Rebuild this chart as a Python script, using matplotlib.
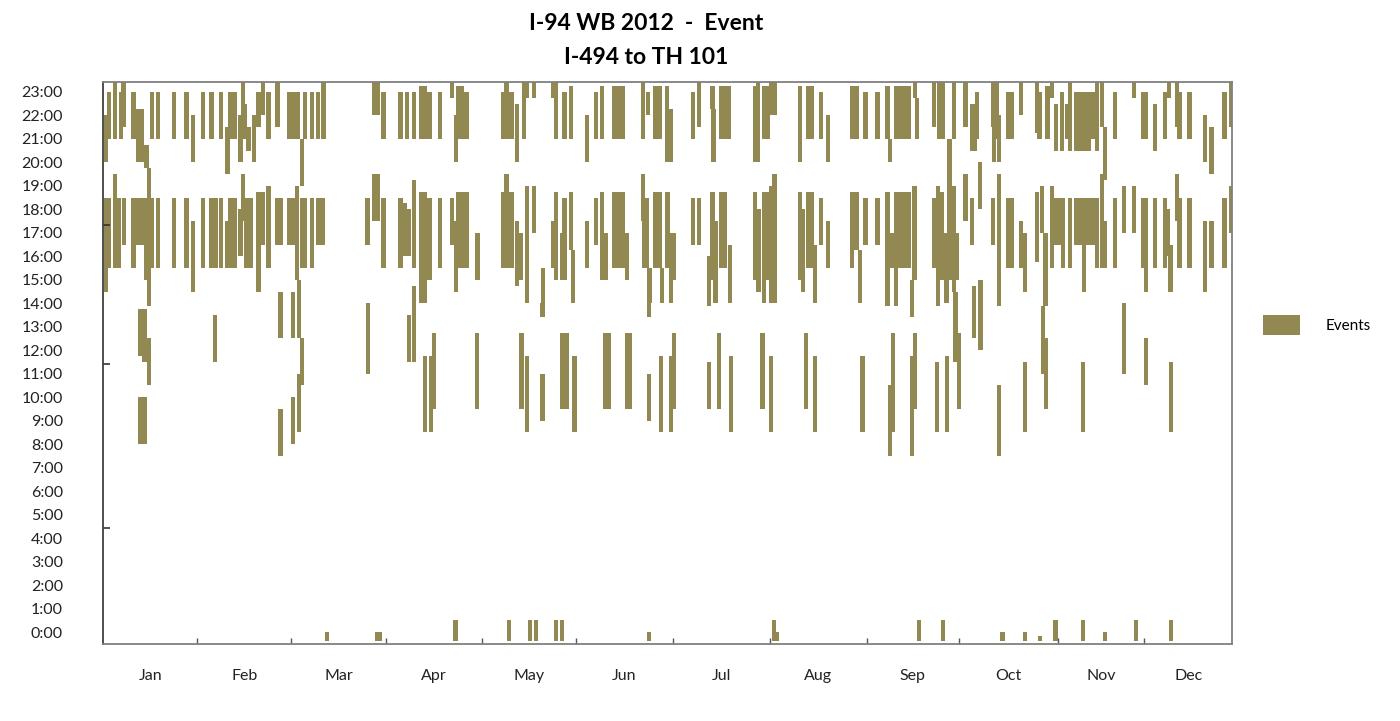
import numpy as np
import matplotlib
matplotlib.use("Agg")
import matplotlib.pyplot as plt

# x = position of the day column (1 unit wide), hours from / to
evening = [
    [0.2, 20.0, 22.0], [0.8, 21.0, 23.0], [2.2, 21.0, 23.5], [3.6, 21.0, 23.0], [4.2, 21.5, 23.5],
    [6.5, 21.0, 23.0], [7.5, 20.0, 22.25], [8.5, 20.0, 22.25], [9.5, 19.75, 20.75], [10.8, 21.0, 23.0],
    [12.2, 21.0, 23.0], [15.9, 21.0, 23.0], [18.7, 21.0, 23.0], [20.3, 20.0, 22.0], [22.6, 21.0, 23.0],
    [24.5, 21.0, 23.0], [26.7, 21.0, 23.0], [28.2, 19.5, 21.5], [28.9, 21.0, 23.0], [29.8, 21.0, 23.0],
    [31.2, 20.0, 22.0], [31.8, 21.5, 23.5], [32.2, 21.0, 22.5], [33.1, 20.5, 21.5], [34.3, 20.0, 22.0],
    [35.4, 21.5, 23.0], [36.4, 22.0, 23.5], [37.7, 21.0, 23.0], [39.8, 21.5, 23.5],
    [42.5, 21.0, 23.0], [43.5, 21.0, 23.0], [44.5, 21.0, 23.0], [45.5, 19.0, 21.0], [46.2, 21.0, 23.0],
    [47.8, 21.0, 23.0], [49.2, 21.0, 23.0], [50.4, 21.0, 23.5], [62.2, 22.0, 23.5], [62.9, 22.0, 23.5],
    [64.3, 21.0, 23.0], [68.2, 21.0, 23.0], [69.7, 21.0, 23.0], [71.4, 21.0, 23.0], [72.9, 21.0, 23.25],
    [73.9, 21.0, 23.25], [74.9, 21.0, 23.0], [77.3, 21.0, 23.0], [80.1, 22.75, 23.5], [81.1, 20.0, 22.0],
    [81.5, 21.0, 23.25], [82.5, 21.0, 23.25], [83.5, 21.0, 23.0],
    [92.0, 21.0, 23.0], [92.7, 23.0, 23.5], [93.0, 21.0, 23.0], [94.0, 21.0, 23.0], [95.2, 20.0, 22.5],
    [96.7, 21.0, 23.5], [97.5, 22.75, 23.5], [99.0, 22.75, 23.5], [103.5, 22.75, 23.5], [104.1, 21.0, 23.5],
    [106.1, 21.0, 23.0], [107.6, 21.0, 23.25], [111.3, 20.0, 22.0], [113.4, 21.0, 23.0], [114.8, 21.0, 23.25],
    [117.6, 21.0, 23.25], [118.6, 21.0, 23.25], [119.6, 21.0, 23.25], [124.3, 21.0, 23.5], [125.4, 22.0, 23.0],
    [127.1, 21.0, 23.25], [128.1, 21.0, 23.25], [129.8, 20.0, 23.25], [130.6, 20.0, 22.25],
    [135.8, 21.0, 23.0], [137.2, 21.5, 23.5], [140.3, 22.25, 23.25], [140.6, 20.0, 22.25], [142.3, 21.0, 23.25],
    [143.3, 21.0, 23.25], [144.0, 21.0, 23.25], [150.2, 20.0, 23.25], [150.8, 20.0, 23.5], [152.2, 21.0, 23.25],
    [153.1, 21.0, 23.25], [153.9, 22.0, 23.5], [154.7, 22.0, 23.5], [160.5, 20.0, 23.25], [162.5, 21.0, 23.25],
    [163.3, 21.0, 23.25], [165.4, 21.0, 23.0], [167.0, 20.0, 22.0], [172.6, 21.0, 23.25], [173.6, 21.0, 23.25],
    [175.7, 21.0, 23.0], [178.5, 21.0, 23.0], [180.8, 21.0, 23.25], [181.3, 20.0, 21.0], [182.8, 21.0, 23.25],
    [183.8, 21.0, 23.25], [184.8, 21.0, 23.25], [185.8, 21.0, 23.25], [187.1, 22.75, 23.5], [187.6, 21.0, 22.75],
    [191.6, 21.5, 23.5], [192.8, 21.0, 23.5], [193.6, 21.0, 23.5], [195.1, 17.0, 21.0], [196.1, 21.0, 23.5],
    [198.8, 21.5, 23.5], [200.3, 20.5, 22.5], [201.0, 20.5, 22.5], [201.5, 21.0, 23.0], [205.2, 21.5, 23.5],
    [205.4, 20.0, 22.0], [206.1, 21.0, 23.5], [206.5, 20.0, 22.0], [208.8, 21.0, 23.0], [209.6, 21.0, 23.0],
    [211.6, 22.0, 23.5], [215.3, 21.25, 23.5], [215.9, 21.0, 23.0], [217.8, 21.0, 23.25],
    [218.8, 22.75, 23.5], [219.8, 20.5, 22.5], [221.1, 20.5, 23.0], [222.3, 21.0, 22.5], [223.0, 20.5, 23.5],
    [224.4, 20.5, 23.0], [225.4, 20.5, 23.0], [226.4, 20.5, 23.0], [227.4, 20.5, 23.0], [228.2, 21.0, 23.0],
    [229.2, 20.5, 23.5], [230.4, 21.5, 23.5], [231.1, 19.25, 21.5], [233.4, 21.0, 23.0], [237.8, 22.75, 23.5],
    [239.8, 21.0, 23.0], [240.5, 21.0, 23.0], [242.7, 20.5, 22.5], [245.0, 21.0, 23.0], [245.8, 22.75, 23.5],
    [247.7, 21.5, 23.5], [248.3, 21.0, 23.0], [250.6, 21.0, 23.0], [254.2, 20.0, 22.0], [255.7, 19.5, 21.5],
    [258.7, 21.0, 23.0], [260.2, 21.5, 23.5],
]

afternoon = [
    [0.2, 14.5, 18.5], [0.8, 15.5, 18.5], [2.2, 15.5, 19.5], [3.2, 15.5, 18.5], [4.3, 16.5, 18.5],
    [6.5, 15.5, 18.5], [7.5, 16.5, 18.5], [8.5, 16.5, 18.5], [9.5, 15.0, 18.5], [10.0, 13.9, 19.75],
    [10.8, 15.5, 18.5], [12.2, 15.5, 18.5], [15.9, 15.5, 18.5], [18.7, 15.5, 18.5], [20.3, 14.5, 17.5],
    [22.6, 15.5, 18.5], [24.5, 15.5, 18.5], [25.5, 15.5, 18.5], [26.7, 15.5, 18.5], [28.2, 15.5, 17.5],
    [28.9, 15.5, 18.5], [29.8, 15.5, 18.5], [31.2, 16.0, 18.0], [31.8, 17.5, 19.5], [32.5, 15.5, 18.5],
    [33.5, 15.5, 18.5], [35.4, 14.5, 18.75], [36.4, 16.5, 18.75], [37.7, 15.5, 19.0], [39.8, 16.5, 18.5],
    [40.5, 16.5, 18.5],
    [42.5, 16.5, 18.5], [43.5, 16.5, 18.5], [44.3, 15.0, 19.0], [45.5, 15.5, 18.5], [46.2, 15.5, 18.5],
    [47.8, 15.5, 18.5], [49.2, 16.5, 18.5], [50.2, 16.5, 18.5], [60.6, 16.5, 18.5], [62.2, 17.5, 19.5],
    [62.9, 17.5, 19.5], [64.3, 15.5, 18.5], [68.2, 15.5, 18.5], [69.2, 16.0, 18.25], [70.1, 16.0, 18.0],
    [71.4, 15.5, 19.25], [72.9, 14.0, 18.75], [73.9, 14.0, 18.75], [74.9, 15.0, 18.5], [77.3, 15.5, 18.5],
    [80.1, 16.5, 18.5], [81.1, 14.5, 17.5], [81.5, 15.5, 18.75], [82.5, 15.5, 18.75], [83.5, 15.5, 18.75],
    [86.0, 15.0, 17.0],
    [92.0, 15.5, 18.75], [92.7, 17.5, 19.5], [93.0, 15.5, 18.75], [94.0, 15.5, 18.75], [95.2, 14.75, 17.5],
    [96.0, 15.0, 17.0], [97.5, 14.0, 19.0], [99.0, 17.0, 19.0], [101.1, 13.5, 15.5], [103.5, 15.5, 17.5],
    [104.1, 15.0, 18.75], [105.6, 15.0, 17.0], [106.1, 15.0, 18.5], [107.6, 16.25, 18.75], [108.1, 14.0, 16.25],
    [111.3, 15.5, 17.5], [113.4, 16.5, 18.5], [114.8, 15.0, 18.75], [115.6, 15.0, 17.0], [117.6, 15.5, 18.75],
    [118.6, 15.5, 18.75], [119.6, 15.5, 18.75], [120.5, 15.0, 17.0], [124.3, 17.5, 19.5], [124.5, 15.5, 18.5],
    [125.2, 15.5, 18.5], [125.8, 14.0, 15.5], [127.1, 15.5, 18.75], [128.1, 15.5, 18.75], [128.6, 14.0, 15.5],
    [129.9, 15.5, 18.75],
    [130.7, 14.0, 17.0], [131.5, 15.0, 17.0], [135.8, 16.5, 18.5], [137.2, 16.5, 18.5], [139.5, 13.9, 16.0],
    [140.3, 15.0, 18.75], [141.0, 14.0, 17.5], [142.3, 15.5, 18.75], [143.3, 15.5, 18.75], [144.4, 14.0, 16.5],
    [150.2, 15.0, 18.75], [151.0, 14.5, 18.0], [152.2, 14.0, 18.75], [153.1, 15.0, 18.75], [153.9, 14.0, 19.0],
    [154.7, 14.0, 19.5], [160.5, 15.0, 18.75], [161.3, 14.5, 18.0], [162.5, 15.5, 18.75], [163.3, 15.5, 18.75],
    [164.1, 14.0, 16.5], [165.4, 16.5, 18.5], [167.0, 15.5, 17.5], [172.6, 15.5, 18.75], [173.6, 16.25, 18.75],
    [174.5, 14.0, 16.25], [175.7, 16.5, 18.5], [178.5, 16.5, 18.5], [180.8, 13.9, 18.75], [181.8, 15.5, 17.0],
    [182.7, 13.9, 18.75], [183.8, 15.5, 18.75], [184.8, 15.5, 18.75], [185.8, 15.5, 18.75], [186.4, 13.4, 15.0],
    [187.0, 15.0, 19.0], [191.6, 15.5, 18.5], [192.4, 13.9, 19.0], [193.3, 15.0, 18.75], [194.4, 14.0, 17.0],
    [195.1, 15.0, 19.5], [196.1, 14.5, 19.0], [196.8, 15.0, 17.0], [198.8, 17.5, 19.5], [200.3, 16.5, 18.5],
    [202.2, 18.0, 20.0], [205.2, 16.5, 18.5], [206.5, 13.9, 19.5], [208.8, 15.5, 18.5], [209.6, 15.5, 18.5],
    [211.6, 15.5, 17.5], [212.6, 14.5, 17.0], [215.3, 15.75, 18.75], [216.5, 17.0, 19.0], [217.3, 13.9, 17.0],
    [218.8, 15.5, 19.0], [219.5, 16.5, 18.5], [220.5, 16.5, 18.5], [221.3, 15.5, 18.5], [223.0, 15.5, 18.5],
    [224.4, 16.5, 18.5], [225.4, 16.5, 18.5], [226.2, 14.5, 18.5], [227.2, 16.5, 18.5], [228.2, 16.5, 18.5],
    [229.2, 15.5, 18.5], [230.4, 15.5, 19.5], [231.1, 15.5, 17.5], [233.4, 15.5, 18.5], [235.5, 17.0, 19.0],
    [237.8, 17.0, 19.0], [239.8, 15.5, 18.5], [240.5, 14.5, 18.5], [242.7, 15.5, 18.5], [245.0, 15.5, 18.5],
    [245.5, 16.0, 18.0], [246.2, 14.5, 16.5], [247.7, 17.5, 19.5], [248.3, 15.5, 18.5], [250.6, 15.5, 18.5],
    [254.2, 14.5, 17.5], [255.7, 15.5, 17.5], [258.7, 15.5, 18.5], [260.2, 17.0, 19.0],
]

daytime = [
    [8.0, 11.75, 13.75], [9.0, 11.5, 13.75], [10.0, 10.5, 12.5], [8.0, 8.0, 10.0], [9.0, 8.0, 10.0],
    [25.4, 11.5, 13.5], [40.5, 12.5, 14.5], [40.5, 7.5, 9.5],
    [43.4, 12.5, 14.5], [43.4, 8.0, 10.0], [44.7, 12.5, 15.0], [44.7, 8.5, 11.0], [45.5, 10.5, 12.5],
    [60.7, 11.0, 14.0], [70.1, 11.5, 13.5], [71.4, 11.5, 14.75], [73.8, 8.5, 11.75], [75.3, 8.5, 11.75],
    [75.9, 9.5, 12.75], [85.9, 9.5, 12.75],
    [96.2, 9.5, 12.75], [97.5, 8.5, 11.75], [101.0, 9.0, 11.0], [101.0, 13.4, 14.0], [105.6, 9.5, 12.75],
    [106.6, 9.5, 12.75], [108.4, 8.5, 11.75], [115.6, 9.5, 12.75], [116.3, 9.5, 12.75], [120.6, 9.5, 12.75],
    [121.3, 9.5, 12.75], [125.6, 9.0, 11.0], [125.6, 13.4, 14.4], [128.5, 8.5, 11.75],
    [130.7, 8.5, 11.75], [131.5, 9.5, 12.75], [139.5, 9.5, 11.5], [141.8, 9.5, 12.75], [144.6, 8.5, 11.75],
    [151.9, 9.5, 12.75], [153.9, 8.5, 11.75], [161.9, 9.5, 12.75], [164.1, 8.5, 11.75],
    [175.0, 8.5, 11.75], [181.3, 7.5, 10.5], [182.1, 8.5, 12.75], [186.4, 7.5, 11.75], [187.1, 9.5, 12.75],
    [192.2, 8.5, 11.5], [194.5, 8.5, 11.75], [196.5, 11.5, 14.5], [197.3, 9.5, 12.75], [200.8, 12.5, 14.75],
    [202.3, 12.0, 15.0], [206.6, 7.5, 10.5], [212.5, 8.5, 11.5], [216.7, 11.0, 13.9], [217.5, 9.5, 12.5],
    [226.0, 8.5, 11.5], [235.4, 11.0, 14.0], [240.6, 10.5, 12.5], [246.3, 8.5, 11.5],
]

midnight = [
    [51.2, -0.4, 0.0], [62.8, -0.4, 0.0], [63.5, -0.4, 0.0], [80.9, -0.4, 0.5], [93.3, -0.4, 0.5],
    [98.2, -0.4, 0.5], [99.6, -0.4, 0.5], [104.2, -0.4, 0.5], [105.6, -0.4, 0.5], [125.7, -0.4, 0.0],
    [154.6, -0.4, 0.5], [155.3, -0.4, 0.0], [188.0, -0.4, 0.5], [193.6, -0.4, 0.5], [207.4, -0.4, 0.0],
    [212.5, -0.4, 0.0], [216.0, -0.4, -0.15], [219.6, -0.4, 0.5], [226.0, -0.4, 0.5], [231.1, -0.4, 0.0],
    [238.3, -0.4, 0.5], [246.3, -0.4, 0.5],
]

months = ["Jan", "Feb", "Mar", "Apr", "May", "Jun", "Jul", "Aug", "Sep", "Oct", "Nov", "Dec"]
month_edges = [0, 21.7, 43.5, 65.3, 87.6, 109.2, 131.8, 154.1, 176.5, 197.8, 220.6, 240.6, 261]
hours = list(range(24))
odd_marks = [17.35, 11.4, 4.44]   # stray tick marks on the left axis

OLIVE = "#928852"
FONT = ["Lato", "DejaVu Sans"]
plt.rcParams["font.family"] = FONT

events = np.array(evening + afternoon + daytime + midnight)
x, start, end = events[:, 0], events[:, 1], events[:, 2]

fig = plt.figure(figsize=(14, 7.21), dpi=100)
ax = fig.add_axes([103.3 / 1400, 1 - 644.3 / 721, 1129 / 1400, 562.3 / 721])
ax.bar(x, end - start, bottom=start, width=1.0, align="edge", color=OLIVE,
       linewidth=0, label="Events")

ax.set_xlim(0, 261)
ax.set_ylim(-0.52, 23.42)

ax.set_yticks(hours, [f"{h}:00" for h in hours])
ax.set_yticks(odd_marks, minor=True)
ax.tick_params(axis="y", which="major", length=0, pad=29, labelsize=11.5, labelcolor="#222222")
ax.tick_params(axis="y", which="minor", direction="in", length=5, width=1.2, color="#333333")

edges = np.array(month_edges)
ax.set_xticks(edges[1:-1], [""] * (len(edges) - 2))
ax.set_xticks((edges[:-1] + edges[1:]) / 2, months, minor=True)
ax.tick_params(axis="x", which="major", direction="in", length=4, width=1, color="#555555")
ax.tick_params(axis="x", which="minor", length=0, pad=18, labelsize=11.5, labelcolor="#222222")

for side, spine in ax.spines.items():
    spine.set_color("#808080")
    spine.set_linewidth(1.3)
ax.spines["left"].set_color("#404040")

fig.text(646 / 1400, 1 - 24 / 721, "I-94 WB 2012  -  Event", ha="center", va="center",
         fontsize=16.5, fontweight="bold")
fig.text(646 / 1400, 1 - 57 / 721, "I-494 to TH 101", ha="center", va="center",
         fontsize=16.5, fontweight="bold")

fig.legend(loc="center left", bbox_to_anchor=(1263 / 1400, 1 - 325 / 721), frameon=False,
           fontsize=11, handlelength=2.4, handleheight=1.6, handletextpad=1.7,
           borderpad=0, borderaxespad=0)

fig.savefig("out.png", dpi=100)
